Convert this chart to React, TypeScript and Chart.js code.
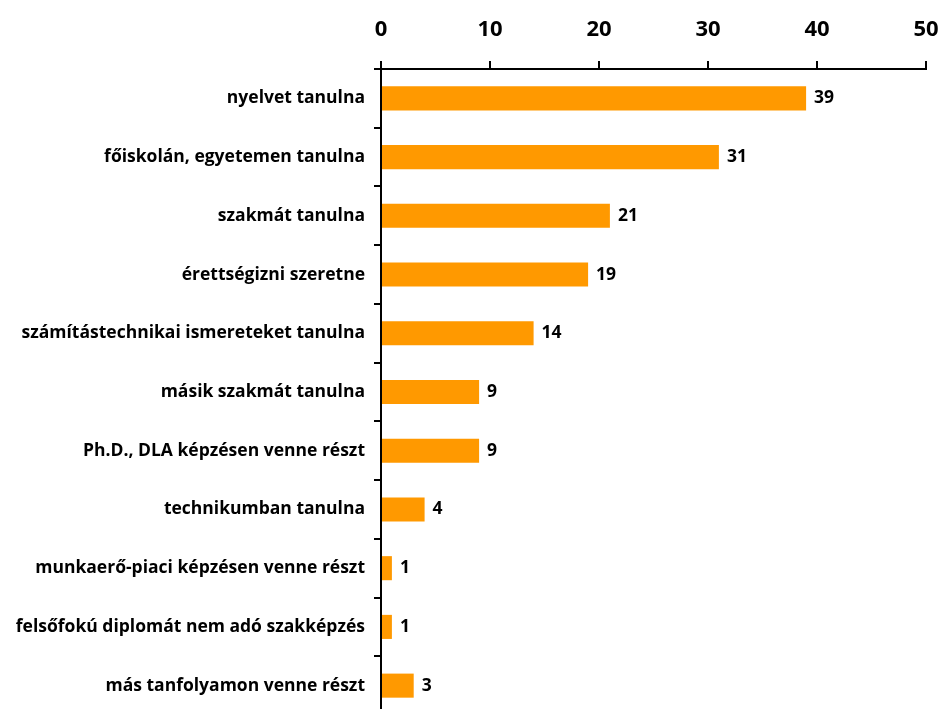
import React, { useEffect, useRef } from "react";
import { Chart, registerables } from "chart.js";

Chart.register(...registerables);

const categories = [
  "nyelvet tanulna",
  "főiskolán, egyetemen tanulna",
  "szakmát tanulna",
  "érettségizni szeretne",
  "számítástechnikai ismereteket tanulna",
  "másik szakmát tanulna",
  "Ph.D., DLA képzésen venne részt",
  "technikumban tanulna",
  "munkaerő-piaci képzésen venne részt",
  "felsőfokú diplomát nem adó szakképzés",
  "más tanfolyamon venne részt",
];
const values = [39, 31, 21, 19, 14, 9, 9, 4, 1, 1, 3];
const xTicks = [0, 10, 20, 30, 40, 50];

const FONT = "'Open Sans', sans-serif";

const valueLabels = {
  id: "valueLabels",
  afterDatasetsDraw(chart: any) {
    const ctx = chart.ctx;
    const meta = chart.getDatasetMeta(0);
    ctx.save();
    ctx.font = `bold 17.5px ${FONT}`;
    ctx.fillStyle = "#000";
    ctx.textAlign = "left";
    ctx.textBaseline = "middle";
    meta.data.forEach((bar: any, i: number) => {
      ctx.fillText(String(values[i]), bar.x + 8, bar.y);
    });
    ctx.restore();
  },
};

export default function App() {
  const ref = useRef<HTMLCanvasElement | null>(null);
  useEffect(() => {
    document.body.style.margin = "0";
    const chart = new Chart(ref.current!, {
      type: "bar",
      data: {
        labels: categories,
        datasets: [
          {
            data: values,
            backgroundColor: "#FF9900",
            barPercentage: 0.41,
            categoryPercentage: 1,
          },
        ],
      },
      options: {
        indexAxis: "y",
        responsive: false,
        animation: false,
        layout: { padding: { left: 0, right: 16, top: 0, bottom: 0 } },
        plugins: { legend: { display: false }, tooltip: { enabled: false } },
        scales: {
          x: {
            position: "top",
            min: 0,
            max: 50,
            afterBuildTicks(scale: any) {
              scale.ticks = xTicks.map((v) => ({ value: v }));
            },
            afterFit(scale: any) {
              scale.height = 69;
              scale.paddingLeft = 0;
              scale.paddingRight = 0;
            },
            grid: {
              drawOnChartArea: false,
              drawTicks: true,
              tickLength: 8,
              color: "#000",
              lineWidth: 2,
            },
            border: { display: true, color: "#000", width: 2 },
            ticks: {
              color: "#000",
              padding: 18,
              font: { family: FONT, size: 22, weight: "bold" },
            },
          },
          y: {
            afterFit(scale: any) {
              scale.width = 381;
              scale.paddingTop = 0;
              scale.paddingBottom = 0;
            },
            grid: {
              drawOnChartArea: false,
              drawTicks: true,
              tickLength: 7,
              offset: true,
              color: "#000",
              lineWidth: 2,
            },
            border: { display: true, color: "#000", width: 2 },
            ticks: {
              color: "#000",
              padding: 9,
              font: { family: FONT, size: 17.5, weight: "bold" },
            },
          },
        },
      },
      plugins: [valueLabels],
    });
    return () => chart.destroy();
  }, []);
  return (
    <div style={{ position: "fixed", left: 0, top: 0, width: 942, height: 709, overflow: "hidden", background: "#fff" }}>
      <canvas ref={ref} width={942} height={715} />
    </div>
  );
}
